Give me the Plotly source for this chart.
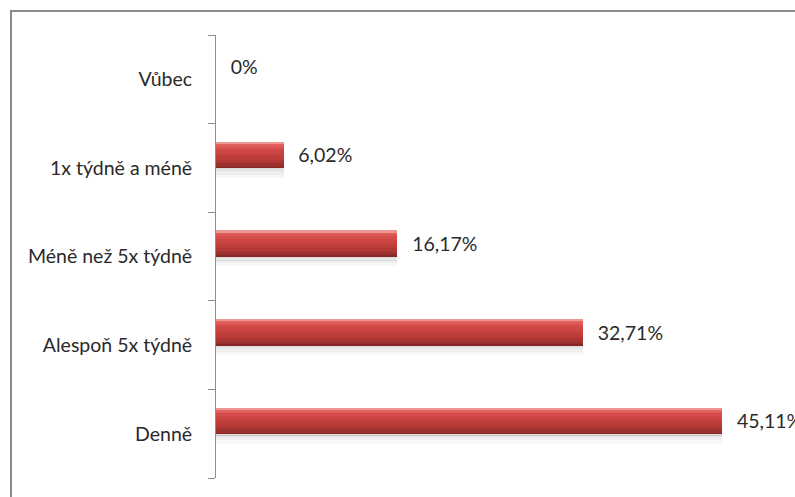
import plotly.graph_objects as go

# Survey answers, listed from the bottom row of the chart to the top
categories = ["Denně", "Alespoň 5x týdně", "Méně než 5x týdně", "1x týdně a méně", "Vůbec"]
values = [45.11, 32.71, 16.17, 6.02, 0.0]
value_labels = ["45,11%", "32,71%", "16,17%", "6,02%", "0%"]

pos = list(range(len(categories)))

FONT = "Lato"
TEXT = "#2a2a2a"
FS = 19.5

# the bar sits just above each category centre, like a 3-D Excel bar
BAR_H = 0.2935
# (bottom, top, colour) slices stacked to fake the glossy cylinder look
layers = [
    (-0.11, -0.075, "rgba(0,0,0,0.03)"),
    (-0.075, -0.045, "rgba(0,0,0,0.06)"),
    (-0.045, -0.02, "rgba(0,0,0,0.09)"),
    (-0.02, 0.0, "rgba(0,0,0,0.13)"),
    (0.0, 0.02, "#872827"),
    (0.02, 0.04, "#98302E"),
    (0.04, 0.065, "#A73432"),
    (0.065, 0.095, "#B23835"),
    (0.095, 0.13, "#BC3C39"),
    (0.13, 0.165, "#C5413E"),
    (0.165, 0.2, "#CD4643"),
    (0.2, 0.23, "#D54D4A"),
    (0.23, 0.255, "#DC5753"),
    (0.255, 0.275, "#E2625E"),
    (0.275, BAR_H, "#EC9591"),
]

fig = go.Figure()
for lo, hi, col in layers:
    fig.add_trace(go.Bar(
        orientation="h",
        x=values,
        y=[p + (lo + hi) / 2 for p in pos],
        width=hi - lo + 0.002,
        base=0,
        marker=dict(color=col, line=dict(width=0)),
        hoverinfo="skip",
        showlegend=False,
    ))

# value labels to the right of each bar end
fig.add_trace(go.Scatter(
    x=values,
    y=[p + BAR_H / 2 - 0.03 for p in pos],
    mode="markers+text",
    marker=dict(size=22, opacity=0),
    text=value_labels,
    textposition="middle right",
    textfont=dict(family=FONT, size=FS, color=TEXT),
    hoverinfo="skip",
    showlegend=False,
    cliponaxis=False,
))

# invisible trace that carries the boundary-tick axis
fig.add_trace(go.Scatter(x=[0], y=[0], yaxis="y2", mode="markers",
                         marker=dict(opacity=0), hoverinfo="skip", showlegend=False))

fig.update_layout(
    width=795,
    height=497,
    margin=dict(l=216, r=18, t=35, b=19),
    paper_bgcolor="white",
    plot_bgcolor="white",
    barmode="overlay",
    bargap=0,
    xaxis=dict(range=[0, 50], visible=False, fixedrange=True),
    yaxis=dict(
        range=[-0.5, 4.5],
        tickmode="array",
        tickvals=pos,
        ticktext=categories,
        ticks="outside",
        ticklen=19,
        tickcolor="rgba(0,0,0,0)",
        tickfont=dict(family=FONT, size=FS, color=TEXT),
        showgrid=False,
        zeroline=False,
        showline=False,
    ),
    yaxis2=dict(
        range=[-0.5, 4.5],
        overlaying="y",
        side="left",
        tickmode="array",
        tickvals=[p - 0.5 for p in pos] + [4.5],
        ticks="outside",
        ticklen=7,
        tickwidth=1.3,
        tickcolor="#8C8C8C",
        showticklabels=False,
        showline=True,
        linecolor="#8C8C8C",
        linewidth=1.3,
        showgrid=False,
        zeroline=False,
    ),
    shapes=[
        # chart-area frame; right and bottom sides run off the page
        dict(type="rect", xref="paper", yref="paper",
             x0=(11 - 216) / 561, x1=1.2, y0=-0.2, y1=(478 - 11) / 443,
             line=dict(color="#8A8A8A", width=2), layer="below"),
    ],
)

fig.write_html("out.html")
